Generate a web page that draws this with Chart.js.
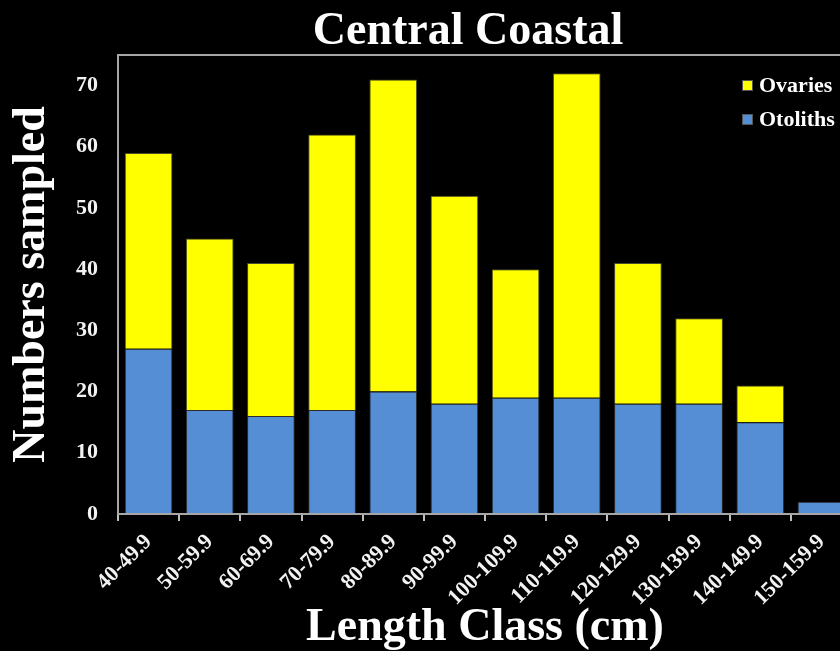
<!DOCTYPE html>
<html>
<head>
<meta charset="utf-8">
<script src="https://cdn.jsdelivr.net/npm/chart.js@4.4.0/dist/chart.umd.min.js"></script>
<style>
  html, body { margin: 0; padding: 0; background: #000; }
  #frame { width: 840px; height: 651px; overflow: hidden; position: relative; }
  #box { width: 936px; height: 651px; position: absolute; left: 0; top: 0; }
</style>
</head>
<body>
<div id="frame"><div id="box"><canvas id="chart"></canvas></div></div>
<script>
// Data
const lengthClasses = ['40-49.9', '50-59.9', '60-69.9', '70-79.9', '80-89.9', '90-99.9',
  '100-109.9', '110-119.9', '120-129.9', '130-139.9', '140-149.9', '150-159.9'];
const otoliths = [27, 17, 16, 17, 20, 18, 19, 19, 18, 18, 15, 2];
// ovaries segment sits on top of the otoliths segment
const ovaries = [32, 28, 25, 45, 51, 34, 21, 53, 23, 14, 6, 0];
const yTicks = [0, 10, 20, 30, 40, 50, 60, 70];

const serif = '"Liberation Serif", "Times New Roman", serif';

// frame around the plot area
const framePlugin = {
  id: 'frame',
  afterDraw(chart) {
    const { ctx, chartArea: a } = chart;
    ctx.save();
    ctx.strokeStyle = '#a6a6a6';
    ctx.lineWidth = 2;
    ctx.strokeRect(a.left, a.top, a.right - a.left, a.bottom - a.top);
    ctx.restore();
  }
};

// legend drawn inside the plot, top right
const legendPlugin = {
  id: 'insideLegend',
  afterDraw(chart) {
    const { ctx, chartArea: a } = chart;
    const items = [chart.data.datasets[1], chart.data.datasets[0]];
    ctx.save();
    ctx.font = 'bold 22px ' + serif;
    ctx.textBaseline = 'middle';
    items.forEach((ds, i) => {
      const x = a.right - 110;
      const y = a.top + 25 + i * 34;
      ctx.fillStyle = ds.backgroundColor;
      ctx.fillRect(x, y, 11, 11);
      ctx.strokeStyle = '#555';
      ctx.lineWidth = 1;
      ctx.strokeRect(x + 0.5, y + 0.5, 10, 10);
      ctx.fillStyle = '#ffffff';
      ctx.fillText(ds.label, x + 17, y + 6);
    });
    ctx.restore();
  }
};

new Chart(document.getElementById('chart'), {
  type: 'bar',
  data: {
    labels: lengthClasses,
    datasets: [
      {
        label: 'Otoliths',
        data: otoliths,
        backgroundColor: '#558ed5',
        borderColor: '#2b2b2b',
        borderWidth: 1,
        categoryPercentage: 1.0,
        barPercentage: 0.78
      },
      {
        label: 'Ovaries',
        data: ovaries,
        backgroundColor: '#ffff00',
        borderColor: '#4a4a2a',
        borderWidth: 1,
        categoryPercentage: 1.0,
        barPercentage: 0.78
      }
    ]
  },
  options: {
    responsive: true,
    maintainAspectRatio: false,
    animation: false,
    layout: { padding: { left: 0, right: 0, top: 0, bottom: 0 } },
    plugins: {
      legend: { display: false },
      tooltip: { enabled: false },
      title: {
        display: true,
        text: 'Central Coastal',
        color: '#ffffff',
        font: { family: serif, size: 46, weight: 'bold', lineHeight: 1 },
        padding: { top: 9, bottom: 0 }
      }
    },
    scales: {
      x: {
        stacked: true,
        border: { color: '#bfbfbf', width: 2 },
        grid: { display: true, drawOnChartArea: false, drawTicks: true, tickLength: 7, color: '#bfbfbf', lineWidth: 2 },
        ticks: {
          color: '#f2f2f2',
          font: { family: serif, size: 22, weight: 'bold' },
          minRotation: 45,
          maxRotation: 45,
          padding: 8,
          autoSkip: false
        },
        title: {
          display: true,
          text: 'Length Class (cm)',
          color: '#ffffff',
          font: { family: serif, size: 46, weight: 'bold', lineHeight: 1 },
          padding: { top: 0, bottom: 0 }
        },
        afterFit(scale) { scale.height = 137; }
      },
      y: {
        stacked: true,
        min: 0,
        max: 75,
        border: { color: '#bfbfbf', width: 2 },
        grid: { display: false, drawTicks: false },
        afterBuildTicks(scale) { scale.ticks = yTicks.map(v => ({ value: v })); },
        ticks: {
          color: '#f2f2f2',
          font: { family: serif, size: 22, weight: 'bold' },
          padding: 20
        },
        title: {
          display: true,
          text: 'Numbers sampled',
          color: '#ffffff',
          font: { family: serif, size: 46, weight: 'bold', lineHeight: 1 },
          padding: { top: 9, bottom: 0 }
        },
        afterFit(scale) { scale.width = 118; }
      },
      yRight: {
        position: 'right',
        display: true,
        border: { display: false },
        grid: { display: false, drawTicks: false },
        ticks: { display: false },
        afterFit(scale) { scale.width = 84; }
      }
    }
  },
  plugins: [framePlugin, legendPlugin]
});
</script>
</body>
</html>
